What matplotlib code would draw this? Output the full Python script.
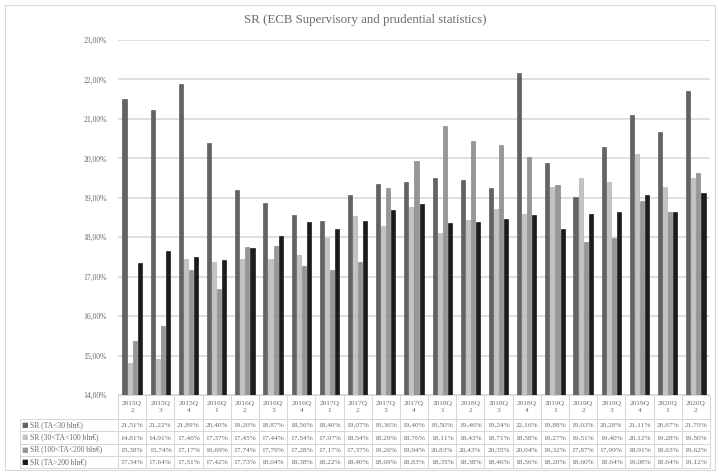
import numpy as np
import matplotlib
matplotlib.use('Agg')
import matplotlib.pyplot as plt
from matplotlib.patches import Rectangle
from matplotlib.lines import Line2D
from matplotlib.ticker import FuncFormatter, MultipleLocator

# quarters shown in the data table
quarters = ['2015Q\n2', '2015Q\n3', '2015Q\n4', '2016Q\n1', '2016Q\n2', '2016Q\n3', '2016Q\n4',
            '2017Q\n1', '2017Q\n2', '2017Q\n3', '2017Q\n4', '2018Q\n1', '2018Q\n2', '2018Q\n3',
            '2018Q\n4', '2019Q\n1', '2019Q\n2', '2019Q\n3', '2019Q\n4', '2020Q\n1', '2020Q\n2']

series_names = ['SR (TA<30 bln€)', 'SR (30<TA<100 bln€)',
                'SR (100<TA<200 bln€)', 'SR (TA>200 bln€)']

sr_small = [21.51, 21.22, 21.89, 20.40, 19.20, 18.87, 18.56, 18.40, 19.07, 19.36, 19.40,
            19.50, 19.46, 19.24, 22.16, 19.88, 19.03, 20.28, 21.11, 20.67, 21.70]
sr_mid = [14.81, 14.91, 17.46, 17.37, 17.45, 17.44, 17.54, 17.97, 18.54, 18.29, 18.76,
          18.11, 18.43, 18.71, 18.58, 19.27, 19.51, 19.40, 20.12, 19.28, 19.50]
sr_large = [15.38, 15.74, 17.17, 16.69, 17.74, 17.79, 17.28, 17.17, 17.37, 19.26, 19.94,
            20.83, 20.43, 20.35, 20.04, 19.32, 17.87, 17.99, 18.91, 18.63, 19.62]
sr_big = [17.34, 17.64, 17.51, 17.42, 17.73, 18.04, 18.38, 18.22, 18.40, 18.69, 18.83,
          18.35, 18.38, 18.46, 18.56, 18.20, 18.60, 18.64, 19.08, 18.64, 19.12]

series = [sr_small, sr_mid, sr_large, sr_big]
colors = ['#636363', '#c3c3c3', '#979797', '#1c1c1c']
edges = ['#4a4a4a', '#a8a8a8', '#7c7c7c', '#000000']

txt_col = '#6b6b6b'
line_col = '#d6d6d6'
serif = 'Liberation Serif'

W, H = 719, 474
fig = plt.figure(figsize=(W / 100, H / 100), dpi=100)

# plot area in pixels (top-left origin)
px_l, px_r, px_t, px_b = 118, 710, 40, 395
ax = fig.add_axes([px_l / W, 1 - px_b / H, (px_r - px_l) / W, (px_b - px_t) / H])

x = np.arange(len(quarters))
step = 0.18
for i, (vals, c, e) in enumerate(zip(series, colors, edges)):
    ax.bar(x + (i - 1.5) * step, vals, width=0.145, color=c, edgecolor=e,
           linewidth=0.4, zorder=3)

ax.set_xlim(-0.5, len(quarters) - 0.5)
ax.set_ylim(14, 23)
ax.yaxis.set_major_locator(MultipleLocator(1))
ax.yaxis.set_major_formatter(FuncFormatter(lambda v, p: f'{v:.2f}%'.replace('.', ',')))
ax.grid(axis='y', color='#d9d9d9', linewidth=1.2, zorder=0)
ax.set_xticks([])
ax.tick_params(axis='y', length=0, pad=8, labelsize=5.5, labelcolor=txt_col)
for lab in ax.get_yticklabels():
    lab.set_fontfamily(serif)
for s in ax.spines.values():
    s.set_visible(False)


def fx(v):
    return v / W


def fy(v):
    return 1 - v / H


def hline(x0, x1, y):
    fig.add_artist(Line2D([fx(x0), fx(x1)], [fy(y), fy(y)], transform=fig.transFigure,
                          color=line_col, linewidth=0.7))


def vline(xv, y0, y1):
    fig.add_artist(Line2D([fx(xv), fx(xv)], [fy(y0), fy(y1)], transform=fig.transFigure,
                          color=line_col, linewidth=0.7))


# data table drawn under the plot
lab_l = 20
col_w = (px_r - px_l) / len(quarters)
head_b = 419
row_h = 12.25
rows_y = [head_b + k * row_h for k in range(len(series) + 1)]

hline(px_l, px_r, px_b)
for yv in rows_y:
    hline(lab_l, px_r, yv)
vline(lab_l, head_b, rows_y[-1])
for j in range(len(quarters) + 1):
    vline(px_l + j * col_w, px_b, rows_y[-1])

for j, q in enumerate(quarters):
    fig.text(fx(px_l + (j + 0.5) * col_w), fy((px_b + head_b) / 2), q, ha='center',
             va='center', fontsize=5.3, color=txt_col, family=serif, linespacing=1.5)

for i, (name, vals, c) in enumerate(zip(series_names, series, colors)):
    yc = fy(rows_y[i] + row_h / 2)
    fig.text(fx(25), yc, '■', ha='center', va='center', fontsize=5, color=c,
             family='DejaVu Sans')
    fig.text(fx(30), yc, name, ha='left', va='center', fontsize=5.5, color=txt_col,
             family=serif)
    for j, v in enumerate(vals):
        fig.text(fx(px_l + (j + 0.5) * col_w), yc, f'{v:.2f}%'.replace('.', ','),
                 ha='center', va='center', fontsize=5.3, color=txt_col, family=serif)

fig.text(fx(365), fy(20), 'SR (ECB Supervisory and prudential statistics)',
         ha='center', va='center', fontsize=9.3, color=txt_col, family=serif)

fig.patches.append(Rectangle((fx(5), fy(470)), 710 / W, 465 / H,
                             transform=fig.transFigure, fill=False,
                             edgecolor='#d9d9d9', linewidth=0.8))

fig.savefig('out.png', dpi=100)
